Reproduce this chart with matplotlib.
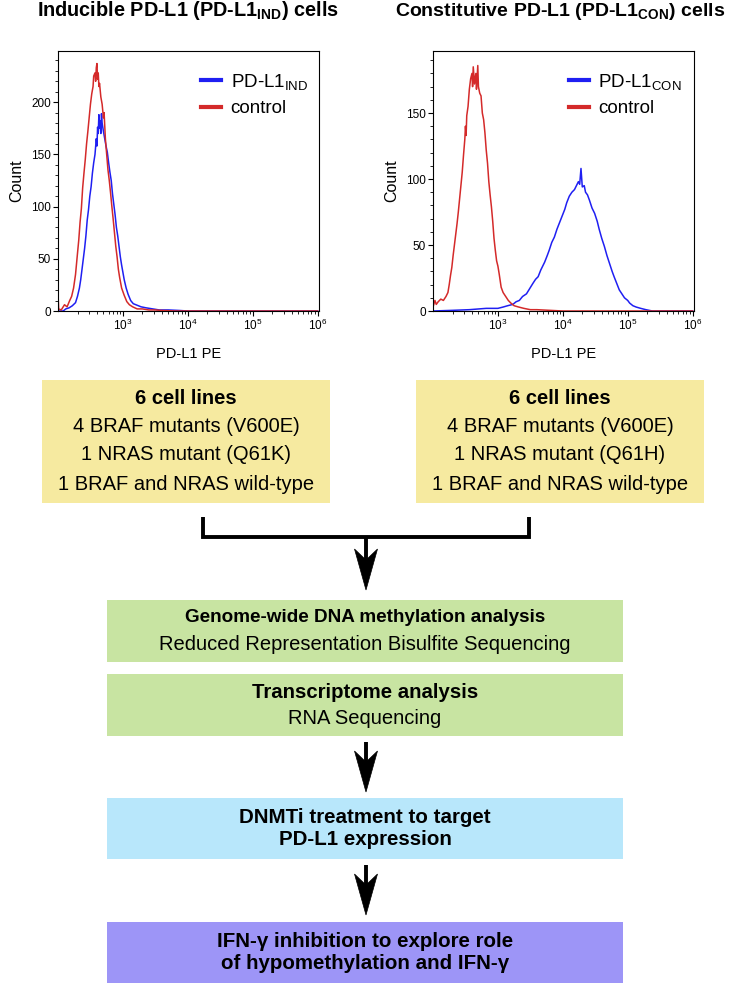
import numpy as np
import matplotlib
matplotlib.use("Agg")
from matplotlib import pyplot as plt
from matplotlib.patches import Rectangle, Polygon
from matplotlib.ticker import FixedLocator, MultipleLocator

plt.rcParams['font.family'] = ['Liberation Sans', 'DejaVu Sans']
plt.rcParams['mathtext.fontset'] = 'custom'
plt.rcParams['mathtext.rm'] = 'Liberation Sans'
plt.rcParams['mathtext.bf'] = 'Liberation Sans:bold'
plt.rcParams['mathtext.it'] = 'Liberation Sans:italic'

# ---- histogram data (log10 PE intensity, cell count) ----
ind_ctrl_log = [2.00, 2.01, 2.05, 2.10, 2.14, 2.18, 2.21, 2.24, 2.27, 2.30, 2.32, 2.34, 2.36,
                2.38, 2.40, 2.42, 2.44, 2.46, 2.48, 2.50, 2.52, 2.54, 2.55, 2.57, 2.58, 2.59,
                2.60, 2.61, 2.62, 2.63, 2.64, 2.66, 2.68, 2.70, 2.71, 2.73, 2.75, 2.77, 2.79,
                2.81, 2.83, 2.85, 2.87, 2.89, 2.91, 2.93, 2.95, 2.98, 3.02, 3.06, 3.10, 3.15,
                3.22, 3.30, 3.40, 3.50, 3.60, 3.80, 6.00]
ind_ctrl_cnt = [17, 2, 1, 6, 4, 10, 14, 22, 35, 55, 68, 85, 98,
                118, 132, 145, 160, 172, 185, 198, 208, 215, 225, 228, 220, 233,
                237, 222, 228, 215, 218, 205, 198, 185, 190, 165, 150, 135, 125,
                113, 100, 88, 75, 62, 52, 40, 32, 22, 15, 9, 6, 4,
                2, 2, 1, 1, 0.5, 0, 0]

ind_pdl1_log = [2.00, 2.08, 2.12, 2.17, 2.22, 2.27, 2.30, 2.33, 2.35, 2.37, 2.39, 2.41, 2.43,
                2.45, 2.47, 2.49, 2.51, 2.53, 2.55, 2.57, 2.59, 2.60, 2.61, 2.62, 2.63, 2.64,
                2.65, 2.66, 2.67, 2.68, 2.70, 2.72, 2.74, 2.76, 2.78, 2.80, 2.82, 2.84, 2.86,
                2.88, 2.90, 2.92, 2.94, 2.96, 2.98, 3.00, 3.02, 3.05, 3.08, 3.12, 3.16, 3.20,
                3.28, 3.36, 3.46, 3.56, 3.70, 3.87, 4.00, 6.00]
ind_pdl1_cnt = [0, 0, 2, 3, 5, 8, 14, 22, 30, 40, 50, 60, 72,
                87, 97, 110, 119, 132, 142, 150, 165, 158, 176, 170, 188, 175,
                182, 170, 189, 180, 172, 165, 158, 152, 142, 133, 125, 112, 102,
                92, 80, 72, 62, 52, 44, 37, 30, 22, 16, 10, 7, 6,
                4, 3, 2, 1, 1, 0.5, 0, 0]

con_ctrl_log = [2.00, 2.03, 2.05, 2.08, 2.12, 2.16, 2.20, 2.23, 2.25, 2.27, 2.29, 2.31, 2.33,
                2.35, 2.37, 2.39, 2.41, 2.43, 2.45, 2.47, 2.49, 2.50, 2.51, 2.52, 2.54, 2.56,
                2.58, 2.60, 2.61, 2.62, 2.64, 2.66, 2.67, 2.69, 2.70, 2.72, 2.74, 2.76, 2.78,
                2.80, 2.82, 2.84, 2.86, 2.88, 2.90, 2.92, 2.94, 2.96, 2.98, 3.00, 3.02, 3.05,
                3.08, 3.12, 3.16, 3.20, 3.25, 3.32, 3.40, 3.50, 3.60, 3.80, 4.00, 6.00]
con_ctrl_cnt = [3, 8, 5, 7, 9, 8, 11, 14, 20, 27, 33, 42, 50,
                58, 66, 75, 85, 95, 105, 118, 130, 140, 133, 148, 155, 168,
                176, 180, 170, 185, 172, 180, 168, 186, 170, 165, 163, 150, 145,
                135, 122, 112, 98, 88, 79, 68, 55, 46, 38, 34, 28, 18,
                14, 11, 8, 6, 4, 3, 2, 1, 1, 0.5, 0, 0]

con_pdl1_log = [2.00, 2.30, 2.56, 2.82, 3.00, 3.08, 3.15, 3.23, 3.28, 3.33, 3.38, 3.44, 3.49,
                3.54, 3.58, 3.62, 3.66, 3.69, 3.72, 3.76, 3.79, 3.83, 3.87, 3.91, 3.95, 3.99,
                4.03, 4.06, 4.10, 4.14, 4.18, 4.21, 4.24, 4.26, 4.28, 4.30, 4.33, 4.35, 4.38,
                4.41, 4.45, 4.49, 4.53, 4.56, 4.60, 4.64, 4.68, 4.72, 4.76, 4.79, 4.83, 4.87,
                4.91, 4.95, 5.00, 5.03, 5.08, 5.13, 5.20, 5.28, 5.38, 6.00]
con_pdl1_cnt = [0, 0.5, 1, 2, 2, 3, 4, 5, 7, 8, 11, 13, 17,
                21, 24, 26, 31, 34, 37, 42, 46, 52, 56, 62, 67, 72,
                77, 82, 87, 90, 92, 95, 98, 96, 108, 94, 95, 90, 88,
                84, 78, 74, 68, 62, 55, 49, 42, 36, 30, 26, 21, 16,
                13, 10, 8, 6, 4, 3, 2, 1, 0, 0]

# ---- flowchart text ----
left_box_lines = ["6 cell lines", "4 BRAF mutants (V600E)", "1 NRAS mutant (Q61K)",
                  "1 BRAF and NRAS wild-type"]
right_box_lines = ["6 cell lines", "4 BRAF mutants (V600E)", "1 NRAS mutant (Q61H)",
                   "1 BRAF and NRAS wild-type"]
step_bold = ["Genome-wide DNA methylation analysis", "Transcriptome analysis",
             "DNMTi treatment to target\nPD-L1 expression",
             "IFN-\u03b3 inhibition to explore role\nof hypomethylation and IFN-\u03b3"]
step_plain = ["Reduced Representation Bisulfite Sequencing", "RNA Sequencing", None, None]
step_colors = ["#C8E4A2", "#C8E4A2", "#B8E7FB", "#9D95F7"]

RED = "#D42A2A"
BLUE = "#1F1FF2"
W, H = 733, 985

fig = plt.figure(figsize=(W / 100, H / 100), dpi=100)

# full-figure axes in pixel units for the flowchart
flow = fig.add_axes([0, 0, 1, 1])
flow.set_xlim(0, W)
flow.set_ylim(H, 0)
flow.axis("off")


def px_axes(x0, y0, x1, y1):
    return fig.add_axes([x0 / W, 1 - y1 / H, (x1 - x0) / W, (y1 - y0) / H])


def histo(ax, ctrl_log, ctrl_cnt, pd_log, pd_cnt, ymax, yticks, label, leg_x):
    ax.plot(10 ** np.array(pd_log), pd_cnt, color=BLUE, lw=1.1, label=label)
    ax.plot(10 ** np.array(ctrl_log), ctrl_cnt, color=RED, lw=1.1, label="control")
    ax.set_xscale("log")
    ax.set_xlim(100, 1.05e6)
    ax.set_ylim(0, ymax)
    ax.xaxis.set_major_locator(FixedLocator([1e3, 1e4, 1e5, 1e6]))
    ax.set_xticklabels([r"$10^3$", r"$10^4$", r"$10^5$", r"$10^6$"])
    minors = [m * 10 ** e for e in range(2, 6) for m in range(2, 10)]
    ax.xaxis.set_minor_locator(FixedLocator(minors))
    ax.yaxis.set_major_locator(FixedLocator(yticks))
    ax.yaxis.set_minor_locator(MultipleLocator(10))
    ax.tick_params(which="major", direction="out", length=3.5, width=0.8, labelsize=8.5, pad=1.5)
    ax.tick_params(which="minor", direction="out", length=2, width=0.6)
    for s in ax.spines.values():
        s.set_linewidth(0.8)
    ax.set_ylabel("Count", fontsize=11.5, labelpad=5)
    ax.set_xlabel("PD-L1 PE", fontsize=10.5, labelpad=10)
    leg = ax.legend(loc="upper left", bbox_to_anchor=(leg_x, 0.985), frameon=False,
                    fontsize=13.5, handlelength=1.05, handletextpad=0.5, labelspacing=0.45)
    for ln in leg.get_lines():
        ln.set_linewidth(3)


ax1 = px_axes(58, 51, 319, 311)
histo(ax1, ind_ctrl_log, ind_ctrl_cnt, ind_pdl1_log, ind_pdl1_cnt, 249,
      [0, 50, 100, 150, 200], r"PD-L1$_\mathrm{IND}$", 0.485)
ax2 = px_axes(433, 51, 694, 311)
histo(ax2, con_ctrl_log, con_ctrl_cnt, con_pdl1_log, con_pdl1_cnt, 197,
      [0, 50, 100, 150], r"PD-L1$_\mathrm{CON}$", 0.458)

flow.text(188, 11, r"Inducible PD-L1 (PD-L1$_\mathbf{IND}$) cells", ha="center", va="center",
          fontsize=14.3, fontweight="bold")
flow.text(560, 11, r"Constitutive PD-L1 (PD-L1$_\mathbf{CON}$) cells", ha="center", va="center",
          fontsize=14, fontweight="bold")

# yellow cell-line boxes
for x0, x1, lines in [(42, 330, left_box_lines), (416, 704, right_box_lines)]:
    flow.add_patch(Rectangle((x0, 380), x1 - x0, 123, facecolor="#F6EAA0", edgecolor="none"))
    for i, (yy, txt) in enumerate(zip([398, 426, 454, 484], lines)):
        flow.text((x0 + x1) / 2, yy, txt, ha="center", va="center", fontsize=14.5,
                  fontweight="bold" if i == 0 else "normal")


def arrow(x, y_top, y_tip):
    flow.plot([x, x], [y_top, y_tip - 20], color="black", lw=2.8, solid_capstyle="butt")
    flow.add_patch(Polygon([(x, y_tip), (x - 11.5, y_tip - 41), (x, y_tip - 30),
                            (x + 11.5, y_tip - 41)], closed=True, facecolor="black",
                           edgecolor="black", lw=0.5))


# bracket joining the two groups
flow.plot([203, 203, 529, 529], [517, 537, 537, 517], color="black", lw=2.8,
          solid_joinstyle="miter", solid_capstyle="butt")
arrow(366, 537, 590)

# workflow steps
box_y = [(600, 662), (674, 736), (798, 859), (922, 983)]
bold_sizes = [13.6, 14.7, 14.8, 14.8]
for (y0, y1), bold, plain, col, bs in zip(box_y, step_bold, step_plain, step_colors, bold_sizes):
    flow.add_patch(Rectangle((107, y0), 516, y1 - y0, facecolor=col, edgecolor="none"))
    cy = (y0 + y1) / 2
    if plain is None:
        flow.text(365, cy, bold, ha="center", va="center", fontsize=bs,
                  fontweight="bold", linespacing=1.25)
    else:
        flow.text(365, cy - 13, bold, ha="center", va="center", fontsize=bs,
                  fontweight="bold")
        flow.text(365, cy + 14, plain, ha="center", va="center", fontsize=14.5)

arrow(366, 742, 792)
arrow(366, 865, 915)

fig.savefig("out.png", dpi=100)
